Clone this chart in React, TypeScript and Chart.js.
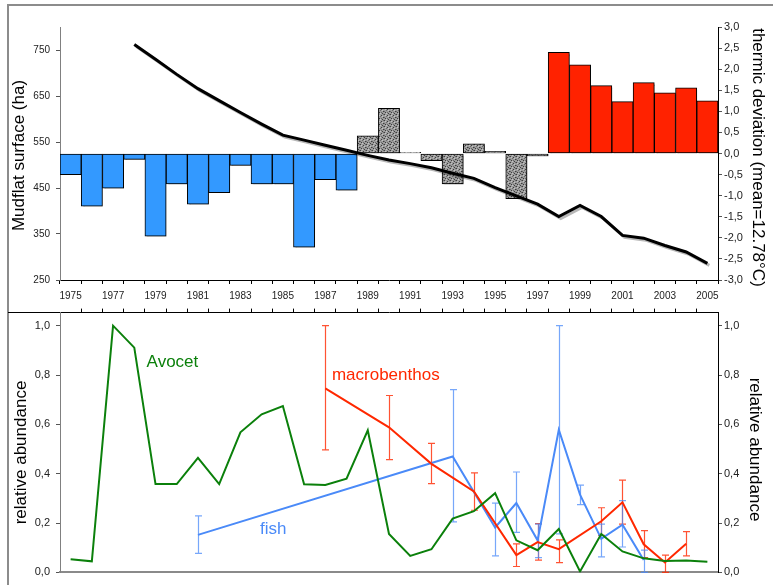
import React, { useEffect, useRef } from 'react';
import { Chart, registerables } from 'chart.js';

Chart.register(...registerables);

// ---------- DATA ----------
const years = [
  1975, 1976, 1977, 1978, 1979, 1980, 1981, 1982, 1983, 1984, 1985, 1986, 1987, 1988, 1989, 1990,
  1991, 1992, 1993, 1994, 1995, 1996, 1997, 1998, 1999, 2000, 2001, 2002, 2003, 2004, 2005,
];
const xTickLabels = years.map((y, i) => (i % 2 === 0 ? String(y) : ''));

// thermic deviation (°C, right axis of the top panel)
const thermicDeviation = [
  -0.5, -1.25, -0.82, -0.14, -1.96, -0.72, -1.2, -0.93, -0.28, -0.72, -0.72, -2.22, -0.62, -0.87,
  0.42, 1.07, 0.03, -0.17, -0.72, 0.23, 0.05, -1.07, -0.06, 2.4, 2.1, 1.61, 1.23, 1.68, 1.44,
  1.56, 1.25,
];
// mudflat surface (ha, left axis of the top panel)
const mudflatSurface = [
  null, null, null, 762, 730, 697, 666, 640, 614, 589, 565, 554, 543, 532, 521, 511, 503, 494,
  482, 471, 451, 433, 415, 388, 412, 388, 347, 341, 325, 311, 286,
];
const leftTicksTop = [250, 350, 450, 550, 650, 750];
const rightTicksTop = [-3, -2.5, -2, -1.5, -1, -0.5, 0, 0.5, 1, 1.5, 2, 2.5, 3];

// bottom panel
const avocetYears = years;
const avocetValues = [
  0.053, 0.045, 1.0, 0.911, 0.358, 0.358, 0.464, 0.358, 0.568, 0.641, 0.674, 0.357, 0.354, 0.38,
  0.576, 0.156, 0.067, 0.094, 0.218, 0.248, 0.321, 0.13, 0.09, 0.176, 0.004, 0.156, 0.085, 0.057,
  0.046, 0.048, 0.043,
];
const macroYears = [1987, 1990, 1992, 1994, 1996, 1997, 1998, 2000, 2001, 2002, 2003, 2004];
const macroValues = [0.746, 0.588, 0.44, 0.328, 0.07, 0.123, 0.094, 0.207, 0.284, 0.114, 0.04, 0.116];
const macroLow = [0.497, 0.457, 0.36, 0.252, 0.024, 0.05, 0.04, 0.15, 0.196, 0.06, 0.0, 0.067];
const macroHigh = [1.0, 0.717, 0.523, 0.403, 0.116, 0.198, 0.132, 0.262, 0.374, 0.169, 0.07, 0.165];
const fishYears = [1981, 1993, 1995, 1996, 1997, 1998, 1999, 2000, 2001, 2002];
const fishValues = [0.152, 0.47, 0.182, 0.281, 0.13, 0.578, 0.315, 0.136, 0.193, 0.05];
const fishLow = [0.077, 0.205, 0.067, 0.162, 0.06, 0.156, 0.275, 0.063, 0.103, 0.0];
const fishHigh = [0.229, 0.741, 0.281, 0.407, 0.196, 1.0, 0.354, 0.196, 0.291, 0.09];
const abundanceTicks = [0, 0.2, 0.4, 0.6, 0.8, 1.0];
const boundaryTicks = years.slice(0, -1).map((y) => y + 0.5);

// ---------- STYLE ----------
const FONT = "'Liberation Sans', Arial, sans-serif";
const BLUE_BAR = '#3399ff';
const RED_BAR = '#ff2200';
const GREEN = '#0b800b';
const RED = '#ff2800';
const BLUE = '#4a8af8';

const fmtComma = (v: number) => v.toFixed(1).replace('.', ',');

function makeStipple(): CanvasPattern | string {
  const c = document.createElement('canvas');
  c.width = 6;
  c.height = 6;
  const g = c.getContext('2d');
  if (!g) return '#888';
  g.fillStyle = '#9c9c9c';
  g.fillRect(0, 0, 6, 6);
  g.fillStyle = '#3e3e3e';
  [[0, 0], [3, 1], [5, 3], [1, 4], [4, 5]].forEach(([x, y]) => g.fillRect(x, y, 1, 1));
  g.fillStyle = '#6a6a6a';
  [[2, 2], [5, 0], [0, 3], [3, 4]].forEach(([x, y]) => g.fillRect(x, y, 1, 1));
  g.fillStyle = '#c4c4c4';
  [[1, 1], [4, 2], [2, 5]].forEach(([x, y]) => g.fillRect(x, y, 1, 1));
  const p = g.createPattern(c, 'repeat');
  return p || '#888';
}

type TitleItem = { text: string; x: number; dy: number; rotation: number };
function titlesPlugin(items: TitleItem[]) {
  return {
    id: 'customTitles',
    afterDraw(chart: any) {
      const { ctx, chartArea } = chart;
      items.forEach((it) => {
        ctx.save();
        ctx.translate(it.x, (chartArea.top + chartArea.bottom) / 2 + it.dy);
        ctx.rotate(it.rotation);
        ctx.font = `17px ${FONT}`;
        ctx.fillStyle = '#000';
        ctx.textAlign = 'center';
        ctx.textBaseline = 'middle';
        ctx.fillText(it.text, 0, 0);
        ctx.restore();
      });
    },
  };
}

const shadowPlugin = {
  id: 'shadow',
  beforeDatasetsDraw(chart: any) {
    const ctx = chart.ctx;
    ctx.save();
    ctx.shadowColor = 'rgba(0,0,0,0.28)';
    ctx.shadowOffsetX = 2;
    ctx.shadowOffsetY = 2;
    ctx.shadowBlur = 0;
  },
  afterDatasetsDraw(chart: any) {
    chart.ctx.restore();
  },
};

const errorBarPlugin = {
  id: 'errorBars',
  beforeDatasetsDraw(chart: any) {
    const ctx = chart.ctx;
    const xs = chart.scales.x;
    chart.data.datasets.forEach((ds: any) => {
      if (!ds.errLow) return;
      const ys = chart.scales[ds.yAxisID];
      ctx.save();
      ctx.strokeStyle = ds.errColor;
      ctx.lineWidth = 1.2;
      ds.errYears.forEach((yr: number, i: number) => {
        const px = Math.round(xs.getPixelForValue(yr)) + 0.5;
        const lo = ys.getPixelForValue(ds.errLow[i]);
        const hi = ys.getPixelForValue(ds.errHigh[i]);
        ctx.beginPath();
        ctx.moveTo(px, lo);
        ctx.lineTo(px, hi);
        ctx.moveTo(px - 3.5, lo);
        ctx.lineTo(px + 3.5, lo);
        ctx.moveTo(px - 3.5, hi);
        ctx.lineTo(px + 3.5, hi);
        ctx.stroke();
      });
      ctx.restore();
    });
  },
};

type SeriesLabel = { text: string; year: number; value: number; color: string };
const seriesLabels: SeriesLabel[] = [
  { text: 'Avocet', year: 1978.58, value: 0.851, color: GREEN },
  { text: 'macrobenthos', year: 1987.31, value: 0.8, color: RED },
  { text: 'fish', year: 1983.92, value: 0.173, color: BLUE },
];
const labelPlugin = {
  id: 'seriesLabels',
  afterDatasetsDraw(chart: any) {
    const { ctx } = chart;
    const xs = chart.scales.x;
    const ys = chart.scales.yL;
    seriesLabels.forEach((l) => {
      ctx.save();
      ctx.font = `17px ${FONT}`;
      ctx.fillStyle = l.color;
      ctx.textAlign = 'left';
      ctx.textBaseline = 'middle';
      ctx.fillText(l.text, xs.getPixelForValue(l.year), ys.getPixelForValue(l.value));
      ctx.restore();
    });
  },
};

function TopChart() {
  const ref = useRef<HTMLCanvasElement>(null);
  useEffect(() => {
    if (!ref.current) return;
    const stipple = makeStipple();
    const barColors = years.map((y) => (y < 1989 ? BLUE_BAR : y < 1998 ? stipple : RED_BAR));
    const chart = new Chart(ref.current, {
      type: 'bar',
      data: {
        labels: years.map(String),
        datasets: [
          {
            type: 'line',
            label: 'Mudflat surface',
            data: mudflatSurface as any,
            yAxisID: 'yL',
            borderColor: '#000',
            borderWidth: 3,
            pointRadius: 0,
            tension: 0,
            order: 0,
          } as any,
          {
            type: 'bar',
            label: 'thermic deviation',
            data: thermicDeviation,
            yAxisID: 'yR',
            backgroundColor: barColors as any,
            borderColor: '#000',
            borderWidth: 1,
            borderSkipped: false,
            barPercentage: 1,
            categoryPercentage: 1,
            order: 1,
          } as any,
        ],
      },
      options: {
        animation: false,
        responsive: false,
        devicePixelRatio: 1,
        layout: { padding: { top: 27, left: 0, right: 0, bottom: 0 } },
        plugins: { legend: { display: false }, tooltip: { enabled: false } },
        scales: {
          x: {
            type: 'category',
            position: 'bottom',
            offset: true,
            grid: { display: true, drawOnChartArea: false, drawTicks: true, tickLength: 4, color: '#000', offset: true },
            border: { display: true, color: '#000', width: 1 },
            ticks: {
              autoSkip: false,
              maxRotation: 0,
              minRotation: 0,
              padding: 6,
              color: '#222',
              font: { family: FONT, size: 10 },
              callback: (_v: any, i: number) => xTickLabels[i],
            },
            afterFit: (s: any) => { s.height = 25; },
          },
          yL: {
            type: 'linear',
            position: 'left',
            min: 250,
            max: 800,
            afterBuildTicks: (s: any) => { s.ticks = leftTicksTop.map((v) => ({ value: v })); },
            grid: { drawOnChartArea: false, drawTicks: true, tickLength: 4, color: '#555' },
            border: { display: true, color: '#808080', width: 1 },
            ticks: { padding: 6, color: '#222', font: { family: FONT, size: 10 }, callback: (v: any) => String(v) },
            afterFit: (s: any) => { s.width = 60; },
          },
          yR: {
            type: 'linear',
            position: 'right',
            min: -3,
            max: 3,
            afterBuildTicks: (s: any) => { s.ticks = rightTicksTop.map((v) => ({ value: v })); },
            grid: { drawOnChartArea: false, drawTicks: true, tickLength: 4, color: '#555' },
            border: { display: true, color: '#000', width: 1 },
            ticks: { padding: 2, color: '#222', font: { family: FONT, size: 11 }, callback: (v: any) => fmtComma(Number(v)) },
            afterFit: (s: any) => { s.width = 55; },
          },
        },
      } as any,
      plugins: [
        shadowPlugin,
        titlesPlugin([
          { text: 'Mudflat surface (ha)', x: 19, dy: 2, rotation: -Math.PI / 2 },
          { text: 'thermic deviation (mean=12.78°C)', x: 758, dy: 4, rotation: Math.PI / 2 },
        ]),
      ],
    });
    return () => chart.destroy();
  }, []);
  return <canvas ref={ref} width={773} height={305} style={{ position: 'absolute', left: 0, top: 0 }} />;
}

function BottomChart() {
  const ref = useRef<HTMLCanvasElement>(null);
  useEffect(() => {
    if (!ref.current) return;
    const chart = new Chart(ref.current, {
      type: 'line',
      data: {
        datasets: [
          {
            label: 'Avocet',
            data: avocetYears.map((x, i) => ({ x, y: avocetValues[i] })),
            borderColor: GREEN,
            borderWidth: 2,
            pointRadius: 0,
            tension: 0,
            xAxisID: 'x',
            yAxisID: 'yL',
          },
          {
            label: 'macrobenthos',
            data: macroYears.map((x, i) => ({ x, y: macroValues[i] })),
            borderColor: RED,
            borderWidth: 2,
            pointRadius: 0,
            tension: 0,
            xAxisID: 'x',
            yAxisID: 'yL',
            errYears: macroYears,
            errLow: macroLow,
            errHigh: macroHigh,
            errColor: 'rgba(255,40,0,0.8)',
          } as any,
          {
            label: 'fish',
            data: fishYears.map((x, i) => ({ x, y: fishValues[i] })),
            borderColor: BLUE,
            borderWidth: 2,
            pointRadius: 0,
            tension: 0,
            xAxisID: 'x',
            yAxisID: 'yL',
            errYears: fishYears,
            errLow: fishLow,
            errHigh: fishHigh,
            errColor: 'rgba(74,138,248,0.75)',
          } as any,
        ],
      },
      options: {
        animation: false,
        responsive: false,
        devicePixelRatio: 1,
        layout: { padding: { top: 8, left: 0, right: 0, bottom: 0 } },
        plugins: { legend: { display: false }, tooltip: { enabled: false } },
        scales: {
          x: {
            type: 'linear',
            position: 'bottom',
            min: 1974.5,
            max: 2005.5,
            grid: { display: false },
            border: { display: true, color: '#8a8a8a', width: 2 },
            ticks: { display: false },
            afterFit: (s: any) => { s.height = 7; },
          },
          xTop: {
            type: 'linear',
            position: 'top',
            min: 1974.5,
            max: 2005.5,
            afterBuildTicks: (s: any) => { s.ticks = boundaryTicks.map((v) => ({ value: v })); },
            grid: { display: true, drawOnChartArea: false, drawTicks: true, tickLength: 4, color: '#000' },
            border: { display: true, color: '#000', width: 1 },
            ticks: { display: false },
            afterFit: (s: any) => { s.height = 4; },
          },
          yL: {
            type: 'linear',
            position: 'left',
            min: 0,
            max: 1.053,
            afterBuildTicks: (s: any) => { s.ticks = abundanceTicks.map((v) => ({ value: v })); },
            grid: { drawOnChartArea: false, drawTicks: true, tickLength: 4, color: '#555' },
            border: { display: true, color: '#808080', width: 1 },
            ticks: { padding: 6, color: '#222', font: { family: FONT, size: 11 }, callback: (v: any) => fmtComma(Number(v)) },
            afterFit: (s: any) => { s.width = 60; },
          },
          yR: {
            type: 'linear',
            position: 'right',
            min: 0,
            max: 1.053,
            afterBuildTicks: (s: any) => { s.ticks = abundanceTicks.map((v) => ({ value: v })); },
            grid: { drawOnChartArea: false, drawTicks: true, tickLength: 4, color: '#555' },
            border: { display: true, color: '#000', width: 1 },
            ticks: { padding: 2, color: '#222', font: { family: FONT, size: 11 }, callback: (v: any) => fmtComma(Number(v)) },
            afterFit: (s: any) => { s.width = 55; },
          },
        },
      } as any,
      plugins: [
        errorBarPlugin,
        labelPlugin,
        titlesPlugin([
          { text: 'relative abundance', x: 21, dy: 10, rotation: -Math.PI / 2 },
          { text: 'relative abundance', x: 755, dy: 7, rotation: Math.PI / 2 },
        ]),
      ],
    });
    return () => chart.destroy();
  }, []);
  return <canvas ref={ref} width={773} height={285} style={{ position: 'absolute', left: 0, top: 300 }} />;
}

export default function App() {
  return (
    <div style={{ position: 'fixed', left: 0, top: 0, width: 773, height: 585, overflow: 'hidden', background: '#fff' }}>
      <div
        style={{
          position: 'absolute',
          left: 7,
          top: 4,
          width: 800,
          height: 620,
          borderTop: '2px solid #8c8c8c',
          borderLeft: '2px solid #8c8c8c',
        }}
      />
      <div style={{ position: 'absolute', left: 8, top: 312, width: 52, height: 1, background: '#000' }} />
      <TopChart />
      <BottomChart />
    </div>
  );
}
